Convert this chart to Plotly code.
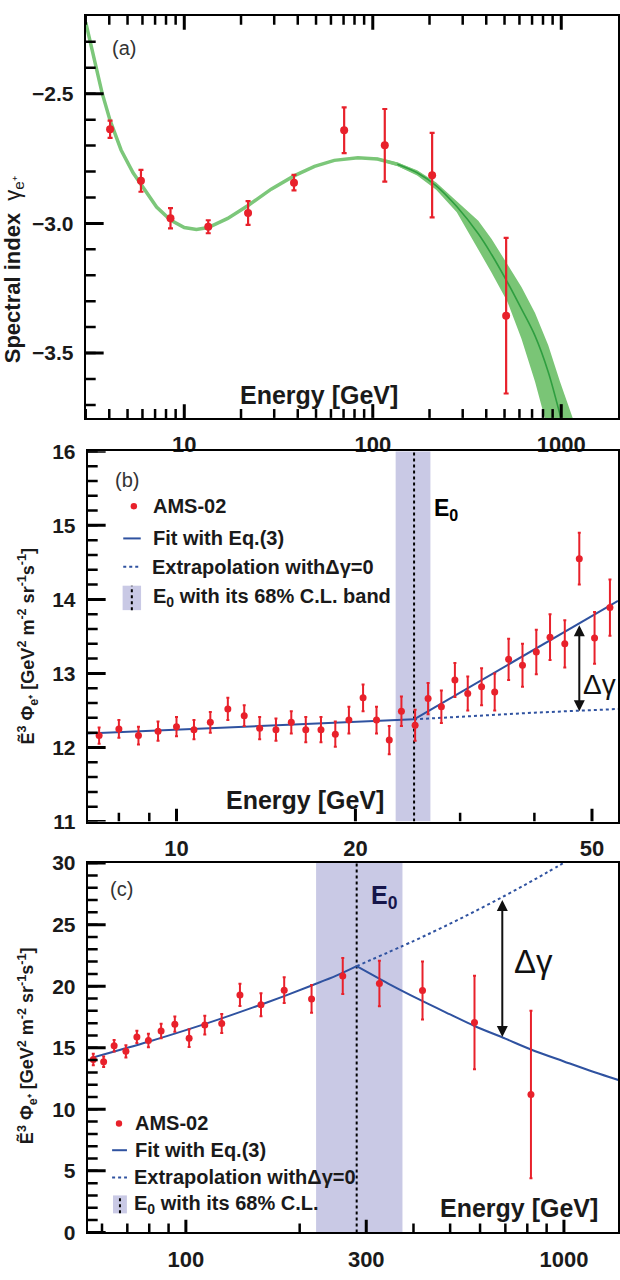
import numpy as np
import plotly.graph_objects as go

# ---------------- data: panel (a) spectral index ----------------
a_E = [4.04, 5.89, 8.45, 13.4, 21.8, 38.2, 70.5, 115.8, 206.5, 510]
a_gamma = [-2.637, -2.836, -2.980, -3.013, -2.960, -2.843, -2.641, -2.699, -2.814, -3.356]
a_err = [0.033, 0.042, 0.039, 0.025, 0.046, 0.030, 0.088, 0.140, 0.163, 0.300]

a_curve_E = [3.0, 3.3, 3.66, 4.04, 4.62, 5.35, 6.18, 7.13, 8.45, 10, 11.6, 13.4, 17, 21.8, 28.9,
             38.2, 49.1, 62.5, 83.4, 106, 135, 172, 217, 279, 363, 427, 518, 615, 726, 853, 984, 1010]
a_curve_g = [-2.225, -2.358, -2.496, -2.603, -2.717, -2.805, -2.874, -2.937, -2.987, -3.016, -3.024,
             -3.016, -2.981, -2.931, -2.868, -2.817, -2.780, -2.757, -2.747, -2.752, -2.772, -2.805,
             -2.855, -2.935, -3.040, -3.120, -3.227, -3.330, -3.434, -3.573, -3.737, -3.770]

a_band_E = [62.5, 83.4, 106, 135, 172, 217, 279, 363, 427, 518, 615, 726, 853, 984, 1150, 1250]
a_band_hi = [-2.756, -2.744, -2.747, -2.765, -2.795, -2.842, -2.915, -2.990, -3.060, -3.157, -3.245,
             -3.346, -3.470, -3.610, -3.750, -3.850]
a_band_lo = [-2.758, -2.750, -2.757, -2.779, -2.815, -2.870, -2.957, -3.100, -3.190, -3.302, -3.445,
             -3.611, -3.800, -4.000, -4.250, -4.400]

# ---------------- data: panel (b) ----------------
b_E = [7.41, 8.0, 8.63, 9.31, 10.0, 10.7, 11.4, 12.2, 13.0, 13.8, 14.7, 15.6, 16.5, 17.5, 18.5, 19.5,
       20.6, 21.7, 22.8, 23.9, 25.2, 26.5, 27.9, 29.4, 30.9, 32.6, 34.3, 36.2, 38.2, 40.3, 42.5, 45.0,
       47.6, 50.5, 53.6]
b_flux = [12.16, 12.25, 12.16, 12.22, 12.28, 12.24, 12.34, 12.52, 12.43, 12.26, 12.24, 12.34, 12.24,
          12.24, 12.18, 12.37, 12.67, 12.37, 12.10, 12.49, 12.30, 12.66, 12.55, 12.91, 12.73, 12.82,
          12.75, 13.19, 13.11, 13.29, 13.49, 13.40, 14.55, 13.48, 13.89]
b_err = [0.11, 0.12, 0.12, 0.13, 0.13, 0.13, 0.14, 0.15, 0.14, 0.15, 0.15, 0.15, 0.17, 0.17, 0.17, 0.18,
         0.18, 0.18, 0.19, 0.20, 0.21, 0.21, 0.22, 0.23, 0.23, 0.25, 0.25, 0.28, 0.29, 0.30, 0.31, 0.32,
         0.35, 0.35, 0.38]
b_fit_lo_E = [7.09, 25.1]
b_fit_lo_y = [12.19, 12.38]
b_fit_hi_E = [25.1, 30, 35, 40, 45, 50, 55.3]
b_fit_hi_y = [12.38, 12.74, 13.05, 13.32, 13.56, 13.78, 13.98]
b_ext_E = [25.1, 40, 55.3]
b_ext_y = [12.38, 12.47, 12.52]
b_E0 = 25.1
b_E0_band = [23.37, 26.74]
b_arrow_E = 47.6
b_arrow_y = [13.67, 12.49]

# ---------------- data: panel (c) ----------------
c_E = [56.9, 60.6, 64.6, 69.4, 74.2, 79.6, 86.0, 93.5, 102, 112.2, 124.4, 139, 158, 182, 215, 260,
       325, 422.6, 580, 818]
c_flux = [14.05, 13.86, 15.16, 14.71, 15.88, 15.59, 16.36, 16.92, 15.78, 16.84, 16.97, 19.29, 18.49,
          19.68, 18.97, 20.83, 20.22, 19.65, 17.05, 11.20]
c_err = [0.47, 0.43, 0.47, 0.50, 0.50, 0.55, 0.59, 0.62, 0.72, 0.77, 0.77, 0.90, 0.93, 1.04, 1.13,
         1.46, 1.84, 2.35, 3.80, 6.80]
c_fit_lo_E = [56.3, 80, 100, 125, 150, 182, 216, 250, 283]
c_fit_lo_y = [14.18, 15.51, 16.43, 17.41, 18.26, 19.20, 20.08, 20.86, 21.63]
c_fit_hi_E = [283, 350, 410, 500, 580, 700, 818, 1000, 1200, 1400]
c_fit_hi_y = [21.63, 20.07, 18.99, 17.71, 16.77, 15.74, 14.86, 13.89, 13.03, 12.36]
c_ext_E = [283, 400, 500, 600, 700, 800, 900, 1030]
c_ext_y = [21.63, 23.67, 25.08, 26.30, 27.37, 28.34, 29.22, 30.26]
c_E0 = 283
c_E0_band = [221, 374]
c_arrow_E = 687
c_arrow_y = [27.13, 15.88]

# axis ranges / ticks
a_xrange = [3, 2000]
a_yrange = [-3.75, -2.2]
b_xrange = [7.09, 55.3]
b_yrange = [11, 16]
c_xrange = [55, 1390]
c_yrange = [0, 30]

a_xticks = [10, 100, 1000]
a_xminor = [3, 4, 5, 6, 7, 8, 9, 20, 30, 40, 50, 60, 70, 80, 90, 200, 300, 400, 500, 600, 700, 800, 900]
a_yticks = [-2.5, -3.0, -3.5]
a_ylabels = ["\u22122.5", "\u22123.0", "\u22123.5"]
a_yminor = [round(-3.7 + 0.1 * i, 1) for i in range(15)]
b_xticks = [10, 20, 50]
b_xminor = [8, 9, 30, 40]
b_yticks = [11, 12, 13, 14, 15, 16]
b_yminor = [round(11 + 0.2 * i, 1) for i in range(26)]
c_xticks = [100, 300, 1000]
c_xminor = [60, 70, 80, 90, 200, 400, 500, 600, 700, 800, 900]
c_yticks = [0, 5, 10, 15, 20, 25, 30]
c_yminor = list(range(0, 31))

# layout geometry
W, H = 620, 1280
xa_dom = [86 / 620, 1.0]
xb_dom = [88 / 620, 1.0]
xc_dom = [88 / 620, 1.0]
ya_dom = [0.6771, 0.9969]
yb_dom = [0.3560, 0.6505]
yc_dom = [0.0291, 0.3229]

# ---------------- styles ----------------
RED = "#e8212b"
BLUE = "#2f52a0"
LAV = "rgb(201,201,229)"
GREEN_L = "#7cc77a"
GREEN_B = "rgb(122,197,118)"
GREEN_D = "#2f9e40"
FONT = "Liberation Sans, Arial, sans-serif"

fig = go.Figure()

# ---- panel (a)
fig.add_trace(go.Scatter(x=a_curve_E, y=a_curve_g, mode="lines", line=dict(color=GREEN_L, width=3.5),
                         xaxis="x", yaxis="y", hoverinfo="skip"))
fig.add_trace(go.Scatter(x=a_band_E + a_band_E[::-1], y=a_band_hi + a_band_lo[::-1], fill="toself",
                         fillcolor=GREEN_B, line=dict(width=0), mode="lines", xaxis="x", yaxis="y",
                         hoverinfo="skip"))
idx = [i for i, e in enumerate(a_curve_E) if e >= 120]
fig.add_trace(go.Scatter(x=[a_curve_E[i] for i in idx], y=[a_curve_g[i] for i in idx], mode="lines",
                         line=dict(color=GREEN_D, width=1.6, shape="spline"), xaxis="x", yaxis="y"))
fig.add_trace(go.Scatter(x=a_E, y=a_gamma, mode="markers", marker=dict(color=RED, size=8),
                         error_y=dict(type="data", array=a_err, color=RED, thickness=2.2, width=2.5),
                         xaxis="x", yaxis="y"))


# ---- bands
def add_band(E0, band, yr, xa, ya):
    fig.add_trace(go.Scatter(x=[band[0], band[1], band[1], band[0]], y=[yr[0], yr[0], yr[1], yr[1]],
                             fill="toself", fillcolor=LAV, line=dict(width=0), mode="lines",
                             xaxis=xa, yaxis=ya, hoverinfo="skip"))
    fig.add_trace(go.Scatter(x=[E0, E0], y=yr, mode="lines", line=dict(color="black", width=2, dash="dot"),
                             xaxis=xa, yaxis=ya, hoverinfo="skip"))


# ---- panel (b)
add_band(b_E0, b_E0_band, b_yrange, "x2", "y2")
fig.add_trace(go.Scatter(x=b_fit_lo_E, y=b_fit_lo_y, mode="lines", line=dict(color=BLUE, width=2),
                         xaxis="x2", yaxis="y2"))
fig.add_trace(go.Scatter(x=b_fit_hi_E, y=b_fit_hi_y, mode="lines", line=dict(color=BLUE, width=2),
                         xaxis="x2", yaxis="y2"))
fig.add_trace(go.Scatter(x=b_ext_E, y=b_ext_y, mode="lines", line=dict(color=BLUE, width=2, dash="3px,3px"),
                         xaxis="x2", yaxis="y2"))
fig.add_trace(go.Scatter(x=b_E, y=b_flux, mode="markers", marker=dict(color=RED, size=7),
                         error_y=dict(type="data", array=b_err, color=RED, thickness=2, width=1.5),
                         xaxis="x2", yaxis="y2"))

# ---- panel (c)
add_band(c_E0, c_E0_band, c_yrange, "x3", "y3")
fig.add_trace(go.Scatter(x=c_fit_lo_E, y=c_fit_lo_y, mode="lines", line=dict(color=BLUE, width=2, shape="spline"),
                         xaxis="x3", yaxis="y3"))
fig.add_trace(go.Scatter(x=c_fit_hi_E, y=c_fit_hi_y, mode="lines", line=dict(color=BLUE, width=2, shape="spline"),
                         xaxis="x3", yaxis="y3"))
fig.add_trace(go.Scatter(x=c_ext_E, y=c_ext_y, mode="lines", line=dict(color=BLUE, width=2, dash="3px,3px", shape="spline"),
                         xaxis="x3", yaxis="y3"))
fig.add_trace(go.Scatter(x=c_E, y=c_flux, mode="markers", marker=dict(color=RED, size=7),
                         error_y=dict(type="data", array=c_err, color=RED, thickness=2, width=1.5),
                         xaxis="x3", yaxis="y3"))


# ---- inward tick marks built from the tick lists and the axis scales
def add_ticks(xa, ya, xr, yr, xdom, ydom, xvals, xlen, yvals, ylen, width, top=False):
    wpx = W * (xdom[1] - xdom[0])
    hpx = H * (ydom[1] - ydom[0])
    dec_per_px = (np.log10(xr[1]) - np.log10(xr[0])) / wpx
    unit_per_px = (yr[1] - yr[0]) / hpx
    dy = xlen * unit_per_px
    xs, ys = [], []
    for v in xvals:
        xs += [v, v, None]
        ys += [yr[0], yr[0] + dy, None]
        if top:
            xs += [v, v, None]
            ys += [yr[1], yr[1] - dy, None]
    x_end = xr[0] * 10 ** (ylen * dec_per_px)
    for v in yvals:
        xs += [xr[0], x_end, None]
        ys += [v, v, None]
    fig.add_trace(go.Scatter(x=xs, y=ys, mode="lines", line=dict(color="#000000", width=width),
                             xaxis=xa, yaxis=ya, hoverinfo="skip", cliponaxis=False))


add_ticks("x", "y", a_xrange, a_yrange, xa_dom, ya_dom, a_xticks, 14, a_yticks, 18, 3, top=True)
add_ticks("x", "y", a_xrange, a_yrange, xa_dom, ya_dom, a_xminor, 9, a_yminor, 10, 2.5, top=True)
add_ticks("x2", "y2", b_xrange, b_yrange, xb_dom, yb_dom, b_xticks, 13, b_yticks, 18, 3)
add_ticks("x2", "y2", b_xrange, b_yrange, xb_dom, yb_dom, b_xminor, 9, b_yminor, 10, 2.5)
add_ticks("x3", "y3", c_xrange, c_yrange, xc_dom, yc_dom, c_xticks, 13, c_yticks, 18, 3)
add_ticks("x3", "y3", c_xrange, c_yrange, xc_dom, yc_dom, c_xminor, 9, c_yminor, 10, 2.5)

fig.update_traces(showlegend=False)

xtickfont = dict(family=FONT, size=22, color="#1a1a1a", weight="bold")
ytickfont = dict(family=FONT, size=21, color="#1a1a1a", weight="bold")


def xax(dom, rng, tv, anchor):
    return dict(type="log", domain=dom, range=[np.log10(rng[0]), np.log10(rng[1])], anchor=anchor,
                tickmode="array", tickvals=tv, ticktext=[str(v) for v in tv], ticks="",
                showline=True, linecolor="black", linewidth=2, mirror=True, showgrid=False,
                zeroline=False, tickfont=xtickfont, ticklabelstandoff=6)


def yax(dom, rng, tv, tt, anchor):
    return dict(domain=dom, range=rng, anchor=anchor, tickmode="array", tickvals=tv, ticktext=tt,
                ticks="", showline=True, linecolor="black", linewidth=2, mirror=True,
                showgrid=False, zeroline=False, tickfont=ytickfont, ticklabelstandoff=6)


fig.update_layout(
    width=W, height=H, margin=dict(l=0, r=0, t=0, b=0),
    paper_bgcolor="white", plot_bgcolor="white",
    xaxis=xax(xa_dom, a_xrange, a_xticks, "y"),
    yaxis=yax(ya_dom, a_yrange, a_yticks, a_ylabels, "x"),
    xaxis2=xax(xb_dom, b_xrange, b_xticks, "y2"),
    yaxis2=yax(yb_dom, b_yrange, b_yticks, [str(v) for v in b_yticks], "x2"),
    xaxis3=xax(xc_dom, c_xrange, c_xticks, "y3"),
    yaxis3=yax(yc_dom, c_yrange, c_yticks, [str(v) for v in c_yticks], "x3"),
)

ann = []
shapes = []


def txt(x, y, ref, text, size, bold=True, color="#1a1a1a", xanchor="left", angle=0):
    ann.append(dict(x=x, y=y, xref=ref[0], yref=ref[1], text=text, showarrow=False,
                    xanchor=xanchor, yanchor="middle", textangle=angle,
                    font=dict(family=FONT, size=size, color=color, weight="bold" if bold else "normal")))


A = ("x domain", "y domain")
B = ("x2 domain", "y2 domain")
C = ("x3 domain", "y3 domain")
P = ("paper", "paper")

# panel labels
txt(0.071, 0.919, A, "(a)", 20, bold=False, color="#333", xanchor="center")
txt(0.0746, 0.922, B, "(b)", 20, bold=False, color="#333", xanchor="center")
txt(0.063, 0.929, C, "(c)", 20, bold=False, color="#333", xanchor="center")
# energy labels
txt(0.438, 0.057, A, "Energy [GeV]", 25, xanchor="center")
txt(0.410, 0.059, B, "Energy [GeV]", 25, xanchor="center")
txt(0.8135, 0.066, C, "Energy [GeV]", 25, xanchor="center")
# E0 labels
txt(0.650, 0.842, B, "E<sub>0</sub>", 23, color="black")
txt(0.530, 0.909, C, "E<sub>0</sub>", 25, color="#15154a")
# delta gamma labels
txt(0.930, 0.3695, B, "\u0394\u03b3", 28, bold=False, color="#111")
txt(0.800, 0.733, C, "\u0394\u03b3", 33, bold=False, color="#111")
# y titles
txt(0.0226, 0.7953, P, "<b>Spectral index</b>  \u03b3<sub>e\u207a</sub>", 22, bold=False, xanchor="center", angle=-90)
ytitle = "\u1ebc<sup>3</sup> \u03a6<sub>e\u207a</sub> [GeV<sup>2</sup> m<sup>-2</sup> sr<sup>-1</sup>s<sup>-1</sup>]"
txt(0.0452, 0.496, P, ytitle, 18, xanchor="center", angle=-90)
txt(0.0435, 0.178, P, ytitle, 18, xanchor="center", angle=-90)

# arrows
for xr, yr, E, ys in [("x2", "y2", b_arrow_E, b_arrow_y), ("x3", "y3", c_arrow_E, c_arrow_y)]:
    ann.append(dict(x=np.log10(E), y=ys[1], ax=np.log10(E), ay=ys[0], xref=xr, yref=yr, axref=xr,
                    ayref=yr, text="", showarrow=True, arrowhead=2, startarrowhead=2,
                    arrowside="end+start", arrowwidth=2, arrowsize=1.1, startarrowsize=1.1,
                    arrowcolor="#111", standoff=0, startstandoff=0))


# legends
def legend(ref, xs, ys, x0, x1, box):
    rx, ry = ref
    shapes.append(dict(type="circle", xref=rx, yref=ry, xsizemode="pixel", ysizemode="pixel",
                       xanchor=xs, yanchor=ys[0], x0=-3.2, x1=3.2, y0=-3.2, y1=3.2,
                       fillcolor=RED, line=dict(width=0)))
    shapes.append(dict(type="line", xref=rx, yref=ry, x0=x0, x1=x1, y0=ys[1], y1=ys[1],
                       line=dict(color=BLUE, width=2)))
    shapes.append(dict(type="line", xref=rx, yref=ry, x0=x0, x1=x1, y0=ys[2], y1=ys[2],
                       line=dict(color=BLUE, width=2, dash="3px,3px")))
    shapes.append(dict(type="rect", xref=rx, yref=ry, x0=box[0], x1=box[1], y0=box[2], y1=box[3],
                       fillcolor=LAV, line=dict(width=0)))
    xm = (box[0] + box[1]) / 2
    shapes.append(dict(type="line", xref=rx, yref=ry, x0=xm, x1=xm, y0=box[2], y1=box[3],
                       line=dict(color="black", width=2, dash="dot")))


legend(B, 0.087, [0.8515, 0.7647, 0.688], 0.067, 0.100, [0.0658, 0.1006, 0.571, 0.637])
txt(0.119, 0.8515, B, "AMS-02", 20)
txt(0.119, 0.7647, B, "Fit with Eq.(3)", 20)
txt(0.117, 0.688, B, "Extrapolation with</b>\u0394\u03b3<b>=0", 20)
txt(0.119, 0.604, B, "E<sub>0</sub> with its 68% C.L. band", 20)

legend(C, 0.059, [0.295, 0.2226, 0.149], 0.046, 0.074, [0.0477, 0.0739, 0.0516, 0.1002])
txt(0.085, 0.295, C, "AMS-02", 20)
txt(0.085, 0.2226, C, "Fit with Eq.(3)", 20)
txt(0.0835, 0.149, C, "Extrapolation with</b>\u0394\u03b3<b>=0", 20)
txt(0.0835, 0.0763, C, "E<sub>0</sub> with its 68% C.L.", 20)

fig.update_layout(annotations=ann, shapes=shapes)
fig.write_html("out.html")
